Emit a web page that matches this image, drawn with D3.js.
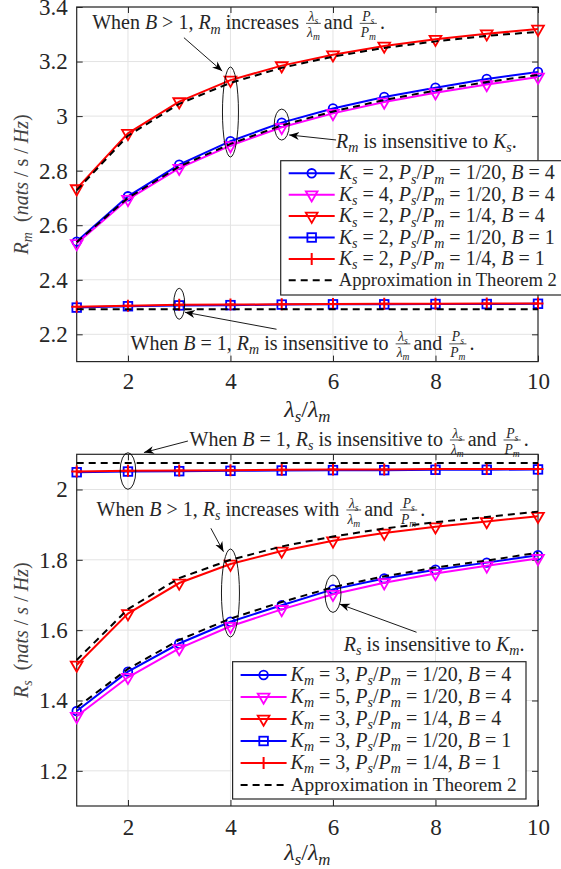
<!DOCTYPE html>
<html>
<head>
<meta charset="utf-8">
<script src="https://cdn.jsdelivr.net/npm/d3@7"></script>
<style>
  body { margin: 0; background: #fff; }
  text { fill: #262626; white-space: pre; }
</style>
</head>
<body>
<svg id="chart" width="561" height="869"></svg>
<script>
"use strict";

// ---- data ----
const lambdaRatio = [1, 2, 3, 4, 5, 6, 7, 8, 9, 10];
const xTicks = [2, 4, 6, 8, 10];

// top panel: R_m
const rmTicks = [2.2, 2.4, 2.6, 2.8, 3.0, 3.2, 3.4];
const rmKs2Low = [2.540, 2.706, 2.822, 2.908, 2.976, 3.028, 3.070, 3.104, 3.136, 3.162];
const rmKs4Low = [2.533, 2.695, 2.809, 2.892, 2.959, 3.010, 3.052, 3.086, 3.116, 3.143];
const rmKs2High = [2.734, 2.937, 3.053, 3.132, 3.185, 3.225, 3.257, 3.282, 3.302, 3.319];
const rmB1Low = [2.298, 2.303, 2.306, 2.307, 2.309, 2.310, 2.310, 2.311, 2.311, 2.312];
const rmB1High = [2.301, 2.305, 2.308, 2.309, 2.310, 2.311, 2.312, 2.312, 2.313, 2.313];
const rmApproxHigh = [2.728, 2.928, 3.045, 3.122, 3.177, 3.218, 3.250, 3.274, 3.294, 3.309];
const rmApproxLow = [2.538, 2.700, 2.815, 2.898, 2.966, 3.017, 3.059, 3.094, 3.125, 3.151];
const rmApproxB1 = [2.292, 2.292, 2.292, 2.292, 2.292, 2.292, 2.292, 2.292, 2.292, 2.292];

// bottom panel: R_s
const rsTicks = [1.2, 1.4, 1.6, 1.8, 2.0];
const rsKm3Low = [1.370, 1.482, 1.562, 1.624, 1.671, 1.716, 1.747, 1.772, 1.792, 1.813];
const rsKm5Low = [1.355, 1.466, 1.548, 1.611, 1.659, 1.702, 1.735, 1.761, 1.783, 1.804];
const rsKm3High = [1.501, 1.647, 1.734, 1.788, 1.825, 1.854, 1.876, 1.894, 1.909, 1.924];
const rsB1Low = [2.049, 2.051, 2.052, 2.053, 2.054, 2.055, 2.055, 2.056, 2.056, 2.057];
const rsB1High = [2.051, 2.053, 2.054, 2.055, 2.056, 2.057, 2.057, 2.058, 2.058, 2.058];
const rsApproxHigh = [1.515, 1.660, 1.748, 1.800, 1.838, 1.866, 1.889, 1.907, 1.922, 1.937];
const rsApproxLow = [1.380, 1.490, 1.572, 1.633, 1.680, 1.722, 1.753, 1.778, 1.798, 1.820];
const rsApproxB1 = [2.075, 2.075, 2.075, 2.075, 2.075, 2.075, 2.075, 2.075, 2.075, 2.075];

const svg = d3.select("#chart");
const DARK = "#262626";
const SERIF = "\"Liberation Serif\", serif";

svg.append("defs").append("marker")
    .attr("id", "head")
    .attr("viewBox", "-10 -5 12 10")
    .attr("markerWidth", 12).attr("markerHeight", 10)
    .attr("markerUnits", "userSpaceOnUse")
    .attr("refX", 0).attr("refY", 0)
    .attr("orient", "auto")
    .append("path")
    .attr("d", "M0,0 L-10,-4 L-7,0 L-10,4 Z")
    .attr("fill", "#000");

// ---- rich text helpers (italic, subscripts, stacked fractions) ----
function drawRun(g, x, y, tokens, fs, anchor) {
    const t = g.append("text")
        .attr("x", x).attr("y", y)
        .attr("text-anchor", anchor || "start")
        .style("font-family", SERIF)
        .style("font-size", fs + "px");
    let shift = 0;
    tokens.forEach(([kind, s]) => {
        const sp = t.append("tspan").text(s);
        if (kind === "i") sp.style("font-style", "italic");
        if (kind === "sub") {
            sp.style("font-style", "italic").style("font-size", (fs * 0.7) + "px")
                .attr("dy", fs * 0.22 - shift);
            shift = fs * 0.22;
        } else if (shift) {
            sp.attr("dy", -shift);
            shift = 0;
        }
    });
    return t;
}

function rich(g, x, y, parts, fs) {
    let cx = x;
    let run = [];
    const flush = () => {
        if (!run.length) return;
        const t = drawRun(g, cx, y, run, fs);
        cx += t.node().getComputedTextLength();
        run = [];
    };
    parts.forEach(p => {
        if (p[0] !== "frac") { run.push(p); return; }
        flush();
        const ffs = fs * 0.68;
        const num = drawRun(g, 0, y - fs * 0.42, p[1], ffs, "middle");
        const den = drawRun(g, 0, y + fs * 0.38, p[2], ffs, "middle");
        const w = Math.max(num.node().getComputedTextLength(), den.node().getComputedTextLength()) + 2;
        num.attr("x", cx + 2 + w / 2);
        den.attr("x", cx + 2 + w / 2);
        g.append("line")
            .attr("x1", cx + 2).attr("x2", cx + 2 + w)
            .attr("y1", y - fs * 0.3).attr("y2", y - fs * 0.3)
            .attr("stroke", DARK).attr("stroke-width", 0.8);
        cx += w + 5;
    });
    flush();
    return cx - x;
}

const fracL = ["frac", [["i", "λ"], ["sub", "s"]], [["i", "λ"], ["sub", "m"]]];
const fracP = ["frac", [["i", "P"], ["sub", "s"]], [["i", "P"], ["sub", "m"]]];

// ---- markers ----
function drawMarker(g, kind, color) {
    if (kind === "circle") {
        g.append("circle").attr("r", 4.3).attr("fill", "none").attr("stroke", color).attr("stroke-width", 1.8);
    } else if (kind === "tri") {
        g.append("path").attr("d", d3.symbol(d3.symbolTriangle, 60)()).attr("transform", "rotate(180)")
            .attr("fill", "none").attr("stroke", color).attr("stroke-width", 1.8);
    } else if (kind === "square") {
        g.append("rect").attr("x", -4.3).attr("y", -4.3).attr("width", 8.6).attr("height", 8.6)
            .attr("fill", "none").attr("stroke", color).attr("stroke-width", 1.8);
    } else if (kind === "plus") {
        g.append("path").attr("d", "M-5.5,0H5.5M0,-6V6").attr("stroke", color).attr("stroke-width", 2);
    }
}

// ---- panel ----
function panel(cfg) {
    const x = d3.scaleLinear().domain([1, 10]).range([76.7, 538]);
    const y = d3.scaleLinear().domain(cfg.yDomain).range([cfg.bottom, cfg.top]);
    const g = svg.append("g");
    const w = x.range()[1] - x.range()[0];
    const h = cfg.bottom - cfg.top;

    // grid
    g.append("g").selectAll("line").data(xTicks.filter(v => v < 10)).join("line")
        .attr("x1", d => x(d)).attr("x2", d => x(d))
        .attr("y1", cfg.top).attr("y2", cfg.bottom)
        .attr("stroke", "#e3e3e3").attr("stroke-width", 1);
    g.append("g").selectAll("line").data(cfg.yTicks).join("line")
        .attr("x1", x(1)).attr("x2", x(10))
        .attr("y1", d => y(d)).attr("y2", d => y(d))
        .attr("stroke", "#e3e3e3").attr("stroke-width", 1);

    // axes (inner ticks on all four sides)
    const ax = (axis, tr) => g.append("g").attr("transform", tr).call(axis)
        .attr("font-family", null).attr("font-size", null)
        .call(s => s.select(".domain").remove())
        .call(s => s.selectAll("line").attr("stroke", DARK))
        .call(s => s.selectAll("text").attr("fill", DARK)
            .style("font-family", SERIF).style("font-size", "23px"));
    ax(d3.axisBottom(x).tickValues(xTicks).tickSize(-6).tickPadding(cfg.xPad).tickFormat(d3.format("d")),
        `translate(0,${cfg.bottom})`);
    ax(d3.axisTop(x).tickValues(xTicks).tickSize(-6).tickFormat(""), `translate(0,${cfg.top})`);
    ax(d3.axisLeft(y).tickValues(cfg.yTicks).tickSize(-6).tickPadding(9).tickFormat(d3.format("~g")),
        `translate(${x(1)},0)`);
    ax(d3.axisRight(y).tickValues(cfg.yTicks).tickSize(-6).tickFormat(""), `translate(${x(10)},0)`);
    g.append("rect").attr("x", x(1)).attr("y", cfg.top).attr("width", w).attr("height", h)
        .attr("fill", "none").attr("stroke", DARK).attr("stroke-width", 1.2);

    const line = d3.line().x((d, i) => x(lambdaRatio[i])).y(d => y(d));
    cfg.series.forEach(s => {
        g.append("path").datum(s.values).attr("d", line)
            .attr("fill", "none").attr("stroke", s.color).attr("stroke-width", 2);
        g.append("g").selectAll("g").data(s.values).join("g")
            .attr("transform", (d, i) => `translate(${x(lambdaRatio[i])},${y(d)})`)
            .each(function () { drawMarker(d3.select(this), s.marker, s.color); });
    });
    cfg.approx.forEach(vals => {
        g.append("path").datum(vals).attr("d", line)
            .attr("fill", "none").attr("stroke", "#000").attr("stroke-width", 2)
            .attr("stroke-dasharray", "7,5");
    });

    // annotations
    const ann = g.append("g");
    cfg.ellipses.forEach(e => {
        ann.append("ellipse").attr("cx", x(e[0])).attr("cy", y(e[1])).attr("rx", e[2]).attr("ry", e[3])
            .attr("fill", "none").attr("stroke", "#000").attr("stroke-width", 0.9);
    });
    cfg.arrows.forEach(a => {
        ann.append("line").attr("x1", x(a[0])).attr("y1", y(a[1])).attr("x2", x(a[2])).attr("y2", y(a[3]))
            .attr("stroke", "#000").attr("stroke-width", 0.9).attr("marker-end", "url(#head)");
    });
    cfg.notes.forEach(n => {
        rich(ann, x(n.at[0]), y(n.at[1]), n.parts, 20);
    });

    // legend
    const lg = g.append("g").attr("transform", `translate(${cfg.legend.x},${cfg.legend.y})`);
    lg.append("rect").attr("width", cfg.legend.w).attr("height", cfg.legend.h)
        .attr("fill", "#fff").attr("stroke", DARK).attr("stroke-width", 1.2);
    const rows = cfg.series.map(s => s).concat([{ color: "#000", dashed: true }]);
    rows.forEach((s, i) => {
        const ry = cfg.legend.row0 + i * cfg.legend.step;
        const row = lg.append("g").attr("transform", `translate(0,${ry})`);
        row.append("line").attr("x1", cfg.legend.lineX0).attr("x2", cfg.legend.lineX0 + 46)
            .attr("stroke", s.color).attr("stroke-width", 2)
            .attr("stroke-dasharray", s.dashed ? "7,5" : null);
        if (s.marker) {
            drawMarker(row.append("g").attr("transform", `translate(${cfg.legend.lineX0 + 23},0)`), s.marker, s.color);
        }
        const isApprox = i >= cfg.labels.length;
        rich(row, cfg.legend.lineX0 + 50, 6,
            isApprox ? [["t", "Approximation in Theorem 2"]] : cfg.labels[i],
            isApprox ? cfg.legend.approxFs : 20);
    });

    // axis labels
    const cy = (cfg.top + cfg.bottom) / 2;
    drawRun(g, 0, 0, cfg.yLabel, 20, "middle")
        .attr("transform", `translate(28,${cy}) rotate(-90)`)
        .style("fill", "#444");
    drawRun(g, (x(1) + x(10)) / 2, cfg.xLabelY,
        [["i", "λ"], ["sub", "s"], ["t", "/"], ["i", "λ"], ["sub", "m"]], 24, "middle");
}

function legendLabel(k, kv, p, b) {
    return [["i", "K"], ["sub", k], ["t", " = " + kv + ", "], ["i", "P"], ["sub", "s"], ["t", "/"],
        ["i", "P"], ["sub", "m"], ["t", " = " + p + ", "], ["i", "B"], ["t", " = " + b]];
}

panel({
    top: 7, bottom: 361.6, yDomain: [2.1, 3.4], yTicks: rmTicks, xPad: 11, xLabelY: 417,
    series: [
        { values: rmKs2Low, color: "#0000ff", marker: "circle" },
        { values: rmKs4Low, color: "#ff00ff", marker: "tri" },
        { values: rmKs2High, color: "#ff0000", marker: "tri" },
        { values: rmB1Low, color: "#0000ff", marker: "square" },
        { values: rmB1High, color: "#ff0000", marker: "plus" }
    ],
    approx: [rmApproxHigh, rmApproxLow, rmApproxB1],
    labels: [
        legendLabel("s", 2, "1/20", 4), legendLabel("s", 4, "1/20", 4), legendLabel("s", 2, "1/4", 4),
        legendLabel("s", 2, "1/20", 1), legendLabel("s", 2, "1/4", 1)
    ],
    legend: { x: 280.7, y: 160.7, w: 290, h: 134.3, lineX0: 8, row0: 12.6, step: 21.4, approxFs: 18.6 },
    ellipses: [[4, 3.015, 8, 45], [5, 2.969, 7.5, 15.5], [3, 2.312, 5.5, 15.5]],
    arrows: [[3.092, 3.2875, 3.839, 3.165], [6.061, 2.9125, 5.145, 2.931], [4.899, 2.2186, 3.111, 2.281]],
    notes: [
        { at: [1.301, 3.318], parts: [["t", "When "], ["i", "B"], ["t", " > 1, "], ["i", "R"], ["sub", "m"], ["t", " increases "], fracL, ["t", "and "], fracP, ["t", "."]] },
        { at: [6.061, 2.883], parts: [["i", "R"], ["sub", "m"], ["t", " is insensitive to "], ["i", "K"], ["sub", "s"], ["t", "."]] },
        { at: [2.051, 2.143], parts: [["t", "When "], ["i", "B"], ["t", " = 1, "], ["i", "R"], ["sub", "m"], ["t", " is insensitive to "], fracL, ["t", "and "], fracP, ["t", "."]] }
    ],
    yLabel: [["i", "R"], ["sub", "m"], ["t", "  ("], ["i", "nats"], ["t", " / s / "], ["i", "Hz"], ["t", ")"]]
});

panel({
    top: 454.3, bottom: 806, yDomain: [1.1, 2.1], yTicks: rsTicks, xPad: 13, xLabelY: 860,
    series: [
        { values: rsKm3Low, color: "#0000ff", marker: "circle" },
        { values: rsKm5Low, color: "#ff00ff", marker: "tri" },
        { values: rsKm3High, color: "#ff0000", marker: "tri" },
        { values: rsB1Low, color: "#0000ff", marker: "square" },
        { values: rsB1High, color: "#ff0000", marker: "plus" }
    ],
    approx: [rsApproxHigh, rsApproxLow, rsApproxB1],
    labels: [
        legendLabel("m", 3, "1/20", 4), legendLabel("m", 5, "1/20", 4), legendLabel("m", 3, "1/4", 4),
        legendLabel("m", 3, "1/20", 1), legendLabel("m", 3, "1/4", 1)
    ],
    legend: { x: 232.6, y: 661.7, w: 293.4, h: 137.3, lineX0: 8, row0: 13.3, step: 22, approxFs: 19.3 },
    ellipses: [[2, 2.0525, 7.8, 18.3], [4, 1.7056, 9, 44], [6, 1.7036, 8, 18.7]],
    arrows: [[3.17, 2.1378, 2.312, 2.105], [3.618, 1.8896, 3.864, 1.823], [7.631, 1.594, 6.132, 1.674]],
    notes: [
        { at: [3.201, 2.1236], parts: [["t", "When "], ["i", "B"], ["t", " = 1, "], ["i", "R"], ["sub", "s"], ["t", " is insensitive to "], fracL, ["t", "and "], fracP, ["t", "."]] },
        { at: [1.388, 1.9246], parts: [["t", "When "], ["i", "B"], ["t", " > 1, "], ["i", "R"], ["sub", "s"], ["t", " increases with "], fracL, ["t", "and "], fracP, ["t", "."]] },
        { at: [6.211, 1.5407], parts: [["i", "R"], ["sub", "s"], ["t", " is insensitive to "], ["i", "K"], ["sub", "m"], ["t", "."]] }
    ],
    yLabel: [["i", "R"], ["sub", "s"], ["t", "  ("], ["i", "nats"], ["t", " / "], ["i", "s"], ["t", " / "], ["i", "Hz"], ["t", ")"]]
});
</script>
</body>
</html>
